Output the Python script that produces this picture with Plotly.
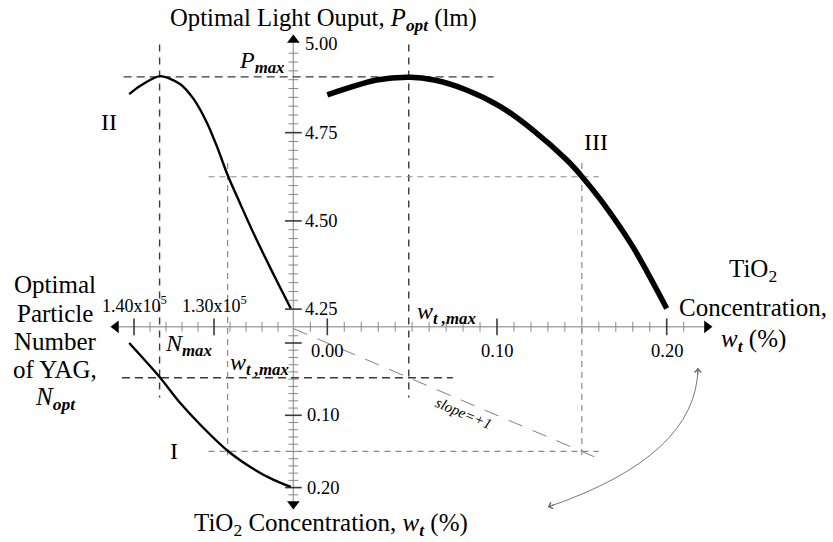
import plotly.graph_objects as go

# ---------------- data ----------------
# Quadrant II (top-left): optimal light output vs optimal particle number of YAG
n_II = [140600, 139250, 136750, 134250, 132600, 130900, 129600, 128300, 126750, 125100, 123400, 121750, 120400]
p_II = [4.859, 4.882, 4.910, 4.888, 4.847, 4.779, 4.709, 4.630, 4.550, 4.467, 4.387, 4.312, 4.252]

# Quadrant III (top-right): optimal light output vs TiO2 concentration
w_III = [0.000, 0.029, 0.049, 0.063, 0.082, 0.102, 0.121, 0.141, 0.150, 0.161, 0.180, 0.200]
p_III = [4.857, 4.899, 4.907, 4.899, 4.871, 4.824, 4.758, 4.673, 4.626, 4.560, 4.427, 4.252]

# Quadrant I (bottom-left): TiO2 concentration vs optimal particle number
n_I = [140600, 136800, 134300, 131800, 128300, 125100, 122600, 120400]
w_I = [0.000, 0.047, 0.082, 0.112, 0.149, 0.174, 0.189, 0.199]

# key values
P_MAX, N_MAX, W_MAX = 4.908, 136800, 0.048
P_MID, N_MID, W_MID = 4.625, 128300, 0.150

# axis crossing values
P_AXIS, W_AXIS_X, W_AXIS_Y, N_AXIS = 4.20, -0.02, -0.0225, 120000

# ticks
n_major = [130000, 140000]
n_major_labels = ["1.30x10<sup>5</sup>", "1.40x10<sup>5</sup>"]
n_minor = [122000, 124000, 126000, 128000, 132000, 134000, 136000, 138000]
w_major = [0.00, 0.10, 0.20]
w_major_labels = ["0.00", "0.10", "0.20"]
w_minor = [-0.01, 0.01, 0.02, 0.03, 0.04, 0.05, 0.06, 0.07, 0.08, 0.09,
           0.11, 0.12, 0.13, 0.14, 0.15, 0.16, 0.17, 0.18, 0.19, 0.21]
p_major = [4.25, 4.50, 4.75]
p_label_vals = [4.25, 4.50, 4.75, 5.00]
p_labels = ["4.25", "4.50", "4.75", "5.00"]
p_minor = [4.275, 4.300, 4.325, 4.350, 4.375, 4.400, 4.425, 4.450, 4.475,
           4.525, 4.550, 4.575, 4.600, 4.625, 4.650, 4.675, 4.700, 4.725,
           4.775, 4.800, 4.825, 4.850, 4.875, 4.900, 4.925, 4.950, 4.975]
wv_major = [0.00, 0.10, 0.20]
wv_label_vals = [0.10, 0.20]
wv_labels = ["0.10", "0.20"]
wv_minor = [-0.01, 0.01, 0.02, 0.03, 0.04, 0.05, 0.06, 0.07, 0.08, 0.09,
            0.11, 0.12, 0.13, 0.14, 0.15, 0.16, 0.17, 0.18, 0.19, 0.21]

# axis ends (arrow positions)
N_AXIS_END, W_AXIS_END_X, P_AXIS_END, W_AXIS_END_Y = 142250, 0.2237, 5.0125, 0.2227

# guide line extents
pmax_line_w = [-0.120, 0.098]
nmax_line_p = [5.00, 4.00]
wmax_line_p = [5.00, 4.00]
wmax_low_line_w = [-0.121, 0.074]
pmid_line_w = [-0.070, 0.160]
nmid_line_p = [4.664, 3.831]
wmid_line_p = [4.664, 3.831]
wmid_low_line_w = [-0.070, 0.160]
slope_w = [-0.02, 0.16]

# ---------------- geometry ----------------
W, H = 833, 542
GX_W0, GX_WS = 327.3, 1697.0   # pixel x of w=0, px per unit of w
GY_P0, GY_PS = 44.4, 353.0     # pixel y of P=5, px per lm
GX_N0, GX_NS = 294.0, 1 / 125  # pixel x of N=1.2e5, px per particle
GY_W0, GY_WS = 343.0, 723.0    # pixel y of w=0 (vertical), px per unit

x_range = [(0 - GX_W0) / GX_WS, (W - GX_W0) / GX_WS]
y_range = [5 - (H - GY_P0) / GY_PS, 5 + GY_P0 / GY_PS]
x2_range = [120000 + GX_N0 / GX_NS, 120000 - (W - GX_N0) / GX_NS]
y2_range = [(H - GY_W0) / GY_WS, -GY_W0 / GY_WS]

FONT = "Liberation Serif"
DARK = "#3a3a3a"
GRAY = "#8a8a8a"
AXC = "#a8a8a8"

fig = go.Figure()


def line(x, y, xa="x", ya="y", color="black", width=1.5, dash=None):
    fig.add_trace(go.Scatter(x=x, y=y, xaxis=xa, yaxis=ya, mode="lines",
                             line=dict(color=color, width=width, dash=dash),
                             hoverinfo="skip"))


def ticks(x, y, xa, ya, sym, size, color, width):
    fig.add_trace(go.Scatter(x=x, y=y, xaxis=xa, yaxis=ya, mode="markers",
                             marker=dict(symbol=sym, size=size,
                                         line=dict(color=color, width=width)),
                             hoverinfo="skip"))


# axes lines
line([N_AXIS, N_AXIS_END], [P_AXIS, P_AXIS], "x2", "y", AXC, 1.5)
line([W_AXIS_X, W_AXIS_END_X], [P_AXIS, P_AXIS], "x", "y", AXC, 1.5)
line([W_AXIS_X, W_AXIS_X], [P_AXIS, P_AXIS_END], "x", "y", AXC, 1.5)
line([W_AXIS_X, W_AXIS_X], [W_AXIS_Y, W_AXIS_END_Y], "x", "y2", AXC, 1.5)

# ticks
ticks(n_minor, [P_AXIS] * len(n_minor), "x2", "y", "line-ns", 7, GRAY, 1)
ticks(n_major, [P_AXIS] * len(n_major), "x2", "y", "line-ns", 12, DARK, 1.6)
ticks(w_minor, [P_AXIS] * len(w_minor), "x", "y", "line-ns", 7, GRAY, 1)
ticks(w_major, [P_AXIS] * len(w_major), "x", "y", "line-ns", 12, DARK, 1.6)
ticks([W_AXIS_X] * len(p_minor), p_minor, "x", "y", "line-ew", 7, GRAY, 1)
ticks([W_AXIS_X] * len(p_major), p_major, "x", "y", "line-ew", 12, DARK, 1.6)
ticks([W_AXIS_X] * len(wv_minor), wv_minor, "x", "y2", "line-ew", 7, GRAY, 1)
ticks([W_AXIS_X] * len(wv_major), wv_major, "x", "y2", "line-ew", 12, DARK, 1.6)

# axis arrows
for xv, yv, xa, ya, sym in [(N_AXIS_END, P_AXIS, "x2", "y", "triangle-left"),
                            (W_AXIS_END_X, P_AXIS, "x", "y", "triangle-right"),
                            (W_AXIS_X, P_AXIS_END, "x", "y", "triangle-up"),
                            (W_AXIS_X, W_AXIS_END_Y, "x", "y2", "triangle-down")]:
    fig.add_trace(go.Scatter(x=[xv], y=[yv], xaxis=xa, yaxis=ya, mode="markers",
                             marker=dict(symbol=sym, size=11, color="black"),
                             hoverinfo="skip"))

# guide lines (dark)
DD = "8px,5px"
DV = "7px,6px"
line(pmax_line_w, [P_MAX, P_MAX], "x", "y", DARK, 1.4, DD)
line([N_MAX, N_MAX], nmax_line_p, "x2", "y", DARK, 1.4, DV)
line([W_MAX, W_MAX], wmax_line_p, "x", "y", DARK, 1.4, DV)
line(wmax_low_line_w, [W_MAX, W_MAX], "x", "y2", DARK, 1.4, DD)
# guide lines (gray)
DG = "6px,5px"
line(pmid_line_w, [P_MID, P_MID], "x", "y", GRAY, 1.2, DG)
line([N_MID, N_MID], nmid_line_p, "x2", "y", GRAY, 1.2, DG)
line([W_MID, W_MID], wmid_line_p, "x", "y", GRAY, 1.2, DG)
line(wmid_low_line_w, [W_MID, W_MID], "x", "y2", GRAY, 1.2, DG)
# slope = +1 line
line(slope_w, slope_w, "x", "y2", "#808080", 1.0, "15px,11px")

# curves
SM = 0.8
fig.add_trace(go.Scatter(x=n_II, y=p_II, xaxis="x2", yaxis="y", mode="lines",
                         line=dict(color="black", width=2.4, shape="spline", smoothing=SM)))
fig.add_trace(go.Scatter(x=w_III, y=p_III, xaxis="x", yaxis="y", mode="lines",
                         line=dict(color="black", width=5.5, shape="spline", smoothing=SM)))
fig.add_trace(go.Scatter(x=n_I, y=w_I, xaxis="x2", yaxis="y2", mode="lines",
                         line=dict(color="black", width=2.4, shape="spline", smoothing=SM)))

# curved double arrow
arc_w = [0.130, 0.2179, 0.2184]
arc_p = [3.6895, 3.834, 4.0833]
fig.add_shape(type="path", xref="x", yref="y",
              path=f"M {arc_w[0]},{arc_p[0]} Q {arc_w[1]},{arc_p[1]} {arc_w[2]},{arc_p[2]}",
              line=dict(color="#777777", width=1))

ann = []


def px(x):
    return x / W


def py(y):
    return 1 - y / H


def text(x, y, t, size, xanchor="center", yanchor="middle", **kw):
    ann.append(dict(x=px(x), y=py(y), xref="paper", yref="paper", text=t,
                    showarrow=False, xanchor=xanchor, yanchor=yanchor,
                    font=dict(family=FONT, size=size, color="black"), **kw))


TICKF = 18.5
# tick labels
for v, t in zip(p_label_vals, p_labels):
    ann.append(dict(x=W_AXIS_X, y=v, xref="x", yref="y", text=t, showarrow=False,
                    xanchor="left", yanchor="middle", xshift=10,
                    font=dict(family=FONT, size=TICKF, color="black")))
for v, t in zip(w_major, w_major_labels):
    ann.append(dict(x=v, y=P_AXIS, xref="x", yref="y", text=t, showarrow=False,
                    xanchor="center", yanchor="middle", yshift=-24,
                    font=dict(family=FONT, size=TICKF, color="black")))
for v, t in zip(wv_label_vals, wv_labels):
    ann.append(dict(x=W_AXIS_X, y=v, xref="x", yref="y2", text=t, showarrow=False,
                    xanchor="left", yanchor="middle", xshift=12,
                    font=dict(family=FONT, size=TICKF, color="black")))
for v, t in zip(n_major, n_major_labels):
    ann.append(dict(x=v, y=P_AXIS, xref="x2", yref="y", text=t, showarrow=False,
                    xanchor="center", yanchor="middle", yshift=22,
                    font=dict(family=FONT, size=18, color="black")))

# titles
text(323, 20, "Optimal Light Ouput, <i>P</i><sub><b><i>opt</i></b></sub> (lm)", 24.7)
text(331, 524, "TiO<sub>2</sub> Concentration, <i>w</i><sub><b><i>t</i></b></sub> (%)", 25)
for yy, t in zip([270, 307, 340],
                 ["TiO<sub>2</sub>", "Concentration,", "<i>w</i><sub><b><i>t</i></b></sub> (%)"]):
    text(753, yy, t, 25)
for yy, t in zip([284, 313, 341, 369, 398],
                 ["Optimal", "Particle", "Number", "of YAG,", "<i>N</i><sub><b><i>opt</i></b></sub>"]):
    text(55, yy, t, 25)

# markers / quadrant labels
text(287, 62, "<i>P</i><sub><b><i>max</i></b></sub>", 24, xanchor="right")
text(163, 345, "<i>N</i><sub><b><i>max</i></b></sub>", 24, xanchor="left")
text(228, 364, "<i>w</i><sub><b><i>t ,max</i></b></sub>", 24, xanchor="left")
text(415, 313, "<i>w</i><sub><b><i>t ,max</i></b></sub>", 24, xanchor="left")
text(109, 122, "II", 24)
text(596, 142, "III", 24)
text(174, 451, "I", 24)
text(463, 413, "<i>slope=+1</i>", 15, textangle=23)

# arrow heads of the curved arrow
ann.append(dict(x=arc_w[0], y=arc_p[0], xref="x", yref="y", text="", showarrow=True,
                ax=8, ay=-3, arrowhead=4, arrowsize=1.3, arrowwidth=1,
                arrowcolor="#666666", standoff=0))
ann.append(dict(x=arc_w[2], y=arc_p[2], xref="x", yref="y", text="", showarrow=True,
                ax=0, ay=8, arrowhead=4, arrowsize=1.3, arrowwidth=1,
                arrowcolor="#666666", standoff=0))

fig.update_layout(
    width=W, height=H, margin=dict(l=0, r=0, t=0, b=0),
    paper_bgcolor="white", plot_bgcolor="white", showlegend=False,
    xaxis=dict(range=x_range, visible=False, domain=[0, 1], fixedrange=True),
    yaxis=dict(range=y_range, visible=False, domain=[0, 1], fixedrange=True),
    xaxis2=dict(range=x2_range, visible=False, overlaying="x", anchor="y", fixedrange=True),
    yaxis2=dict(range=y2_range, visible=False, overlaying="y", anchor="x", fixedrange=True),
    annotations=ann,
)

fig.write_html("out.html")
